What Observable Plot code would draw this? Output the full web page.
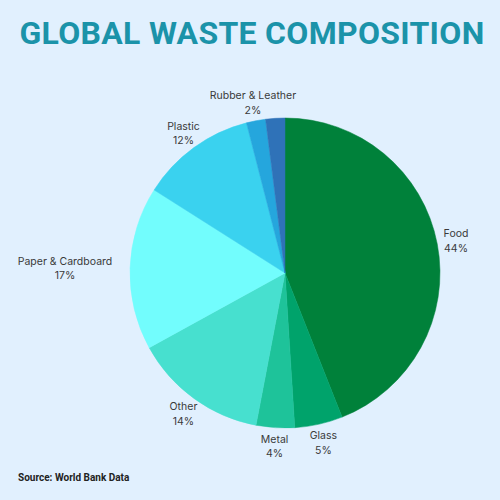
<!DOCTYPE html>
<html>
<head>
<meta charset="utf-8">
<script src="https://cdn.jsdelivr.net/npm/d3@7"></script>
<script src="https://cdn.jsdelivr.net/npm/@observablehq/plot@0.6"></script>
<style>
  html, body { margin: 0; padding: 0; background: #e1f0fe; width: 500px; height: 500px; overflow: hidden; }
  #title { height: 64px; line-height: 66px; text-align: center; font-family: Roboto, sans-serif; font-weight: 700; font-size: 32px; color: #1b93a9; letter-spacing: 0.3px; padding-left: 4px; }
  #caption { font-family: Roboto, sans-serif; font-weight: 700; font-size: 10px; color: #222; padding-left: 18px; margin-top: 8px; }
  svg { display: block; background: transparent; }
</style>
</head>
<body>
<div id="title">GLOBAL WASTE COMPOSITION</div>
<div id="chart"></div>
<div id="caption">Source: World Bank Data</div>
<script>
const categories = ["Food", "Glass", "Metal", "Other", "Paper & Cardboard", "Plastic", "Rubber & Leather", "Wood"];
const shares = [44, 5, 4, 14, 17, 12, 2, 2];
const colors = ["#00813a", "#00a36b", "#1ec39a", "#47e0cf", "#72fdfd", "#3ad2ef", "#25a6dd", "#2f72b8"];
const showLabel = [true, true, true, true, true, true, true, false];

const total = d3.sum(shares);
const pie = d3.pie().sort(null).value(d => d.value)(categories.map((c, i) => ({name: c, value: shares[i], color: colors[i], show: showLabel[i]})));
const labelR = 1.12;
const labels = pie.filter(p => p.data.show).map(p => {
  const mid = (p.startAngle + p.endAngle) / 2;
  return {
    x: labelR * Math.sin(mid),
    y: labelR * Math.cos(mid),
    side: Math.abs(Math.sin(mid)) > 0.99 && Math.sin(mid) < 0 ? "end" : "middle",
    text: p.data.name + "\n" + Math.round(p.data.value / total * 100) + "%"
  };
});

const pieMark = (index, scales, values, dimensions) => {
  const sx = scales && scales.x, sy = scales && scales.y;
  const cx = sx ? sx(0) : 285;
  const cy = sy ? sy(0) : 209;
  const r = sx ? sx(1) - sx(0) : 155;
  const arc = d3.arc().innerRadius(0).outerRadius(r);
  const g = d3.create("svg:g").attr("transform", `translate(${cx},${cy})`);
  g.selectAll("path").data(pie).join("path")
    .attr("d", arc)
    .attr("fill", d => d.data.color)
    .attr("stroke", d => d.data.color)
    .attr("stroke-width", 0.5);
  return g.node();
};

const labelStyle = {x: "x", y: "y", text: "text", textAnchor: "middle", fontSize: 10.5, fill: "#3a3a3a", lineHeight: 1.35, fontFamily: "Inter, sans-serif"};

const chart = Plot.plot({
  width: 500,
  height: 400,
  marginLeft: 130,
  marginRight: 60,
  marginTop: 54,
  marginBottom: 36,
  x: {domain: [-1, 1], axis: null},
  y: {domain: [-1, 1], axis: null},
  style: {background: "transparent", overflow: "visible"},
  marks: [
    pieMark,
    Plot.text(labels.filter(d => d.side === "middle"), {...labelStyle, dy: -1}),
    Plot.text(labels.filter(d => d.side === "end"), {...labelStyle, dx: -47, dy: -1})
  ]
});
document.getElementById("chart").appendChild(chart);
</script>
</body>
</html>
